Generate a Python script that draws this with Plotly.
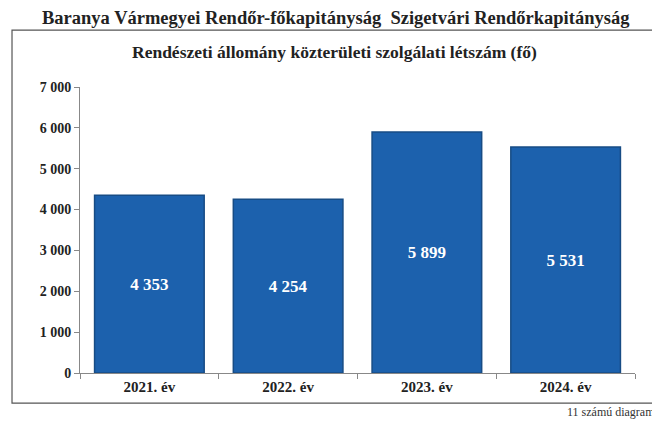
import plotly.graph_objects as go

# Data
years = ["2021. év", "2022. év", "2023. év", "2024. év"]
headcount = [4353, 4254, 5899, 5531]
y_ticks = [0, 1000, 2000, 3000, 4000, 5000, 6000, 7000]

font_family = "Liberation Serif, Times New Roman, serif"
bar_color = "#1C61AD"
edge_color = "#174C85"

fig = go.Figure()

fig.add_trace(go.Bar(
    x=years,
    y=headcount,
    marker=dict(color=bar_color, line=dict(color=edge_color, width=1.5)),
    text=[f"{v:,}".replace(",", " ") for v in headcount],
    textposition="inside",
    insidetextanchor="middle",
    textfont=dict(family=font_family, size=17, color="white", weight="bold"),
    hoverinfo="x+y",
    showlegend=False,
))

# page body has an 8px margin, so the figure is 8px smaller than the window
fig.update_layout(
    width=652,
    height=415,
    margin=dict(l=72, r=25, t=79, b=50),
    plot_bgcolor="white",
    paper_bgcolor="white",
    bargap=0.21,
    font=dict(family=font_family, color="#222222"),
    xaxis=dict(
        showgrid=False,
        showline=True,
        linecolor="#888888",
        linewidth=1,
        ticks="outside",
        tickson="boundaries",
        ticklen=5,
        tickcolor="#888888",
        tickfont=dict(family=font_family, size=15, color="#222222", weight="bold"),
    ),
    yaxis=dict(
        range=[0, 7000],
        tickvals=y_ticks,
        ticktext=[f"{v:,}".replace(",", " ") for v in y_ticks],
        showgrid=False,
        zeroline=False,
        showline=True,
        linecolor="#888888",
        linewidth=1,
        ticks="outside",
        ticklen=5,
        tickcolor="#888888",
        tickfont=dict(family=font_family, size=14, color="#222222", weight="bold"),
    ),
)

# Outer frame around the chart
fig.add_shape(
    type="rect", xref="paper", yref="paper",
    x0=-0.1225, x1=1.038, y0=-0.105, y1=1.199,
    line=dict(color="#555555", width=1.2),
)

# Top heading (above the frame)
fig.add_annotation(
    text="Baranya Vármegyei Rendőr-főkapitányság  Szigetvári Rendőrkapitányság",
    xref="paper", yref="paper", x=0.462, y=1.241,
    xanchor="center", yanchor="middle", showarrow=False,
    font=dict(family=font_family, size=18.5, color="#222222", weight="bold"),
)

# Chart title
fig.add_annotation(
    text="Rendészeti állomány közterületi szolgálati létszám (fő)",
    xref="paper", yref="paper", x=0.459, y=1.122,
    xanchor="center", yanchor="middle", showarrow=False,
    font=dict(family=font_family, size=17.5, color="#222222", weight="bold"),
)

# Footnote
fig.add_annotation(
    text="11 számú diagram",
    xref="paper", yref="paper", x=1.04, y=-0.138,
    xanchor="right", yanchor="middle", showarrow=False,
    font=dict(family=font_family, size=12, color="#333333"),
)

fig.write_html("out.html")
